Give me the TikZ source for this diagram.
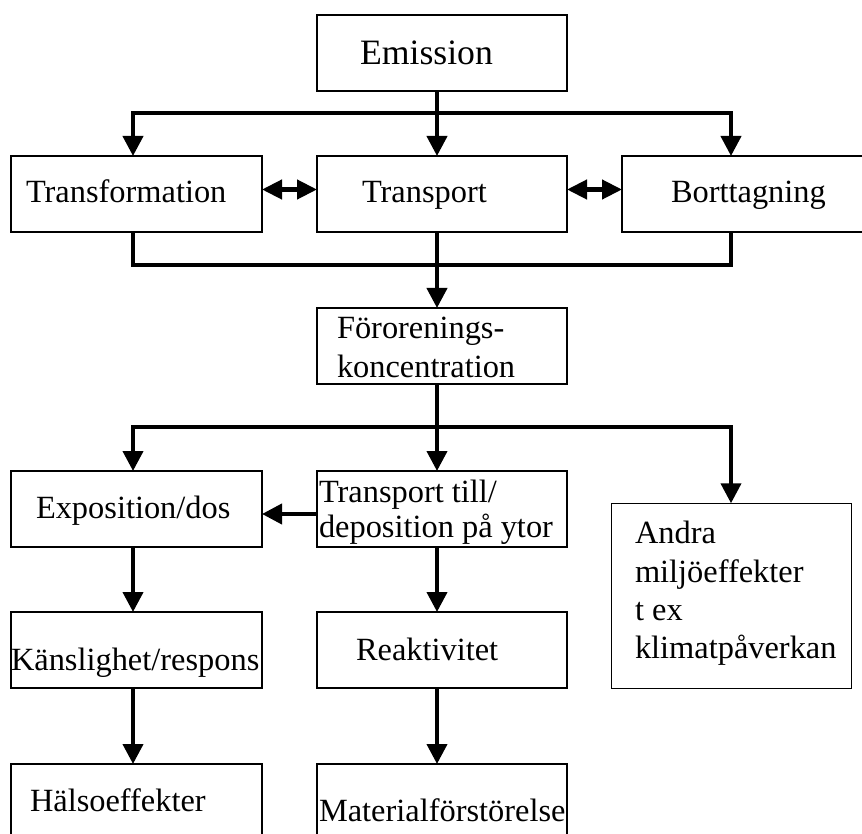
\documentclass[tikz,border=0pt]{standalone}
\usepackage{fontspec}
\setmainfont{Liberation Serif}
\usetikzlibrary{arrows.meta}

\tikzset{
  box/.style={draw, line width=1.3pt, rectangle, inner sep=0pt, outer sep=0pt},
  lbl/.style={anchor=base west, inner sep=0pt, outer sep=0pt,
              font=\fontsize{32.4}{38}\selectfont},
  bigl/.style={lbl, font=\fontsize{35.7}{42}\selectfont},
  conn/.style={line width=4pt, line join=miter,
               -{Triangle[length=20pt,width=20pt]}},
  bar/.style={line width=4.3pt, line join=miter},
  dbl/.style={line width=4.3pt,
              {Triangle[length=20pt,width=19pt]}-{Triangle[length=20pt,width=19pt]}},
}

\begin{document}
\begin{tikzpicture}[x=1pt,y=-1pt]
  \useasboundingbox (0,0) rectangle (862,834);
  \clip (0,0) rectangle (862,834);

  % boxes
  \node[box, minimum width=250pt, minimum height=76pt] (emis)   at (442,53)  {};
  \node[box, minimum width=251pt, minimum height=76pt] (trf)    at (136.5,194) {};
  \node[box, minimum width=250pt, minimum height=76pt] (trp)    at (442,194) {};
  \node[box, minimum width=248pt, minimum height=76pt] (bort)   at (746,194) {};
  \node[box, minimum width=250pt, minimum height=76pt] (foro)   at (442,346) {};
  \node[box, minimum width=251pt, minimum height=76pt] (expo)   at (136.5,509) {};
  \node[box, minimum width=250pt, minimum height=76pt] (tptill) at (442,509) {};
  \node[box, minimum width=240pt, minimum height=185pt] (andra) at (731.6,595.8) {};
  \node[box, minimum width=251pt, minimum height=76pt] (kans)   at (136.5,650) {};
  \node[box, minimum width=250pt, minimum height=76pt] (reak)   at (442,650) {};
  \node[box, minimum width=251pt, minimum height=86pt] (hals)   at (136.5,807) {};
  \node[box, minimum width=250pt, minimum height=86pt] (mat)    at (442,807) {};

  % texts
  \node[bigl] (temis) at (360,65) {Emission};
  \node[lbl] (ttrf)  at (26,203)  {Transformation};
  \node[lbl] (ttrp)  at (362,203) {Transport};
  \node[lbl] (tbort) at (671,203) {Borttagning};
  \node[lbl] (tforo1) at (337,338) {Förorenings-};
  \node[lbl] (tforo2) at (337,377) {koncentration};
  \node[lbl] (texpo) at (36,518)  {Exposition/dos};
  \node[lbl] (ttp1)  at (319,502) {Transport till/};
  \node[lbl] (ttp2)  at (319,537) {deposition på ytor};
  \node[lbl] (tand1) at (635,543) {Andra};
  \node[lbl] (tand2) at (635,582) {miljöeffekter};
  \node[lbl] (tand3) at (635,620) {t ex};
  \node[lbl] (tand4) at (635,658) {klimatpåverkan};
  \node[lbl] (tkans) at (11,670)  {Känslighet/respons};
  \node[lbl] (treak) at (356,660) {Reaktivitet};
  \node[lbl] (thals) at (30,811)  {Hälsoeffekter};
  \node[lbl] (tmat)  at (319,821) {Materialförstörelse};

  % junction points of the distribution bars
  \coordinate (c1) at (437,113);
  \coordinate (l1) at (133,113);
  \coordinate (r1) at (731,113);
  \coordinate (c2) at (437,265);
  \coordinate (l2) at (133,265);
  \coordinate (r2) at (731,265);
  \coordinate (c3) at (437,427);
  \coordinate (l3) at (133,427);
  \coordinate (r3) at (731,427);

  % emission spreads to the three processes
  \draw[conn] (emis.south -| c1) -- (trp.north -| c1);
  \draw[conn] (c1) -- (l1) -- (trf.north -| l1);
  \draw[conn] (c1) -- (r1) -- (bort.north -| r1);

  % exchanges between the processes
  \draw[dbl] ([yshift=4.5pt]trf.east) -- ([yshift=4.5pt]trp.west);
  \draw[dbl] ([yshift=4.5pt]trp.east) -- ([yshift=4.5pt]bort.west);

  % processes gathered into the concentration
  \draw[bar] (trf.south -| l2) -- (l2) -- (r2) -- (bort.south -| r2);
  \draw[conn] (trp.south -| c2) -- (foro.north -| c2);

  % concentration spreads to the effects
  \draw[conn] (foro.south -| c3) -- (tptill.north -| c3);
  \draw[conn] (c3) -- (l3) -- (expo.north -| l3);
  \draw[conn] (c3) -- (r3) -- (andra.north -| r3);

  \draw[conn] ([yshift=-5pt]tptill.west) -- ([yshift=-5pt]expo.east);

  % effect chains
  \draw[conn] (expo.south -| l3) -- (kans.north -| l3);
  \draw[conn] (kans.south -| l3) -- (hals.north -| l3);
  \draw[conn] (tptill.south -| c3) -- (reak.north -| c3);
  \draw[conn] (reak.south -| c3) -- (mat.north -| c3);
\end{tikzpicture}
\end{document}
